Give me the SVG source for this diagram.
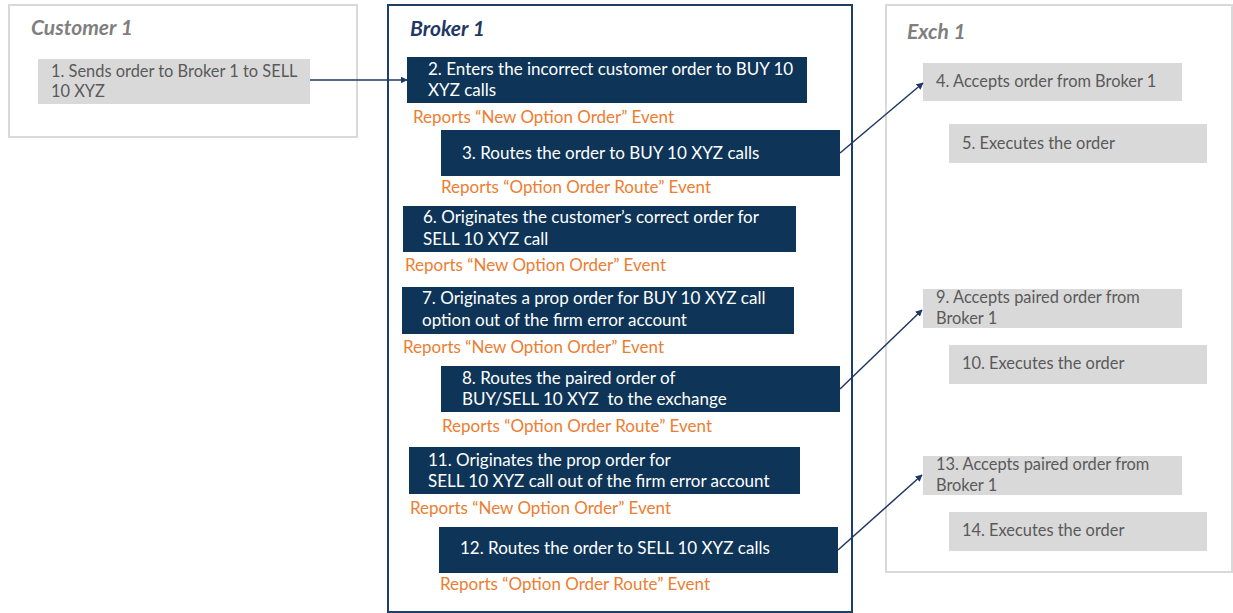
<svg xmlns="http://www.w3.org/2000/svg" width="1233" height="613" viewBox="0 0 1233 613">
<style>
text{font-family:Lato,"Liberation Sans",sans-serif;font-size:17px}
.lane{fill:#fff;stroke:#d9d9d9;stroke-width:2}
.blane{fill:#fff;stroke:#1f3f66;stroke-width:2}
.gt{font-weight:bold;font-style:italic;font-size:21px;fill:#7f7f7f}
.bt{font-weight:bold;font-style:italic;font-size:21px;fill:#1f3864}
.g{fill:#d9d9d9}
.d{fill:#0e3558}
.gtx{fill:#595959;font-size:16.4px}
.wtx{fill:#fff}
.otx{fill:#ed7d31}
.c{stroke:#1f3864;stroke-width:1.5;fill:none;marker-end:url(#ah)}
</style>
<defs>
<marker id="ah" viewBox="0 0 10 10" refX="9" refY="5" markerWidth="7" markerHeight="7" orient="auto" markerUnits="userSpaceOnUse"><path d="M0,0 L10,5 L0,10 z" fill="#1f3864"/></marker>
</defs>
<rect width="1233" height="613" fill="#fff"/>
<g id="customer1">
<rect class="lane" x="9" y="5" width="348" height="132"/>
<text class="gt" x="31" y="35">Customer 1</text>
</g>
<g id="broker1">
<rect class="blane" x="388" y="5" width="464" height="607"/>
<text class="bt" x="410" y="36">Broker 1</text>
</g>
<g id="exch1">
<rect class="lane" x="886" y="5" width="346" height="567"/>
<text class="gt" x="907" y="39">Exch 1</text>
</g>
<g id="n1"><rect class="g" x="38" y="59" width="272" height="45"/><text class="gtx" x="51" y="77">1. Sends order to Broker 1 to SELL</text><text class="gtx" x="51" y="97">10 XYZ</text></g>
<g id="n2"><rect class="d" x="407" y="57" width="400" height="46"/><text class="wtx" x="428" y="75">2. Enters the incorrect customer order to BUY 10</text><text class="wtx" x="428" y="96">XYZ calls</text><text class="otx" x="413" y="123">Reports “New Option Order” Event</text></g>
<g id="n3"><rect class="d" x="441" y="130" width="399" height="46"/><text class="wtx" x="462" y="159">3. Routes the order to BUY 10 XYZ calls</text><text class="otx" x="441" y="193">Reports “Option Order Route” Event</text></g>
<g id="n6"><rect class="d" x="403" y="206" width="393" height="46"/><text class="wtx" x="423" y="223">6. Originates the customer’s correct order for</text><text class="wtx" x="423" y="245">SELL 10 XYZ call</text><text class="otx" x="405" y="271">Reports “New Option Order” Event</text></g>
<g id="n7"><rect class="d" x="402" y="287" width="392" height="47"/><text class="wtx" x="422" y="304">7. Originates a prop order for BUY 10 XYZ call</text><text class="wtx" x="422" y="326">option out of the firm error account</text><text class="otx" x="403" y="353">Reports “New Option Order” Event</text></g>
<g id="n8"><rect class="d" x="441" y="366" width="399" height="46"/><text class="wtx" x="462" y="384">8. Routes the paired order of</text><text class="wtx" x="462" y="405" xml:space="preserve">BUY/SELL 10 XYZ  to the exchange</text><text class="otx" x="442" y="432">Reports “Option Order Route” Event</text></g>
<g id="n11"><rect class="d" x="409" y="447" width="391" height="47"/><text class="wtx" x="428" y="466">11. Originates the prop order for</text><text class="wtx" x="428" y="487">SELL 10 XYZ call out of the firm error account</text><text class="otx" x="410" y="514">Reports “New Option Order” Event</text></g>
<g id="n12"><rect class="d" x="439" y="527" width="399" height="46"/><text class="wtx" x="460" y="554">12. Routes the order to SELL 10 XYZ calls</text><text class="otx" x="440" y="590">Reports “Option Order Route” Event</text></g>
<g id="n4"><rect class="g" x="923" y="63" width="259" height="38"/><text class="gtx" x="936" y="87">4. Accepts order from Broker 1</text></g>
<g id="n5"><rect class="g" x="949" y="124" width="258" height="39"/><text class="gtx" x="962" y="149">5. Executes the order</text></g>
<g id="n9"><rect class="g" x="923" y="289" width="259" height="39"/><text class="gtx" x="936" y="303">9. Accepts paired order from</text><text class="gtx" x="936" y="324">Broker 1</text></g>
<g id="n10"><rect class="g" x="949" y="345" width="258" height="39"/><text class="gtx" x="962" y="369">10. Executes the order</text></g>
<g id="n13"><rect class="g" x="923" y="456" width="259" height="39"/><text class="gtx" x="936" y="470">13. Accepts paired order from</text><text class="gtx" x="936" y="491">Broker 1</text></g>
<g id="n14"><rect class="g" x="949" y="512" width="258" height="39"/><text class="gtx" x="962" y="536">14. Executes the order</text></g>
<g id="connectors">
<path class="c" d="M310,80 L407,80"/>
<path class="c" d="M840,153 L923,83"/>
<path class="c" d="M840,389 L922,310"/>
<path class="c" d="M838,550 L922,475"/>
</g>
</svg>
